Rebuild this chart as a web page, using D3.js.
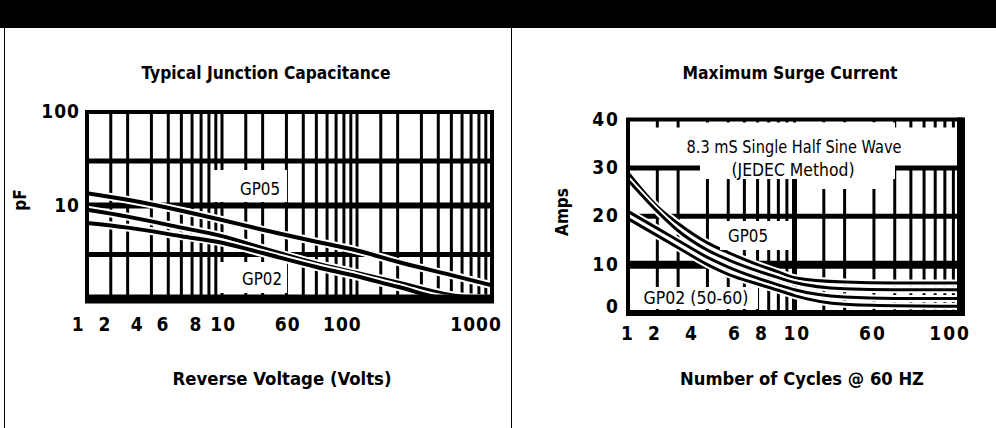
<!DOCTYPE html>
<html><head><meta charset="utf-8">
<script src="https://cdn.jsdelivr.net/npm/d3@7/dist/d3.min.js"></script>
<style>
html,body{margin:0;padding:0;background:#fff;}
svg{display:block;}
</style></head>
<body><svg id="c" width="996" height="428"></svg>
<script>
// ---------- DATA ----------
// Left chart: Typical Junction Capacitance (pF vs Reverse Voltage)
const capVoltage = [1, 2, 5, 10, 20, 50, 100, 200, 500, 1000];
const capCurveA = [13.5, 11.5, 8.8, 7.0, 5.5, 4.1, 3.3, 2.5, 1.8, 1.4];
const capCurveB = [9.0, 7.6, 5.8, 4.7, 3.5, 2.4, 1.9, 1.5, 1.1, 1.0];
const capCurveC = [6.5, 5.8, 4.7, 4.0, 3.1, 2.2, 1.75, 1.35, 1.0, 1.0];
const capXTickLabels = ["1", "2", "4", "6", "8", "10", "60", "100", "1000"];
const capXTickAt = [0.86, 1.36, 2.35, 3.66, 6.4, 10.2, 30.7, 78, 762];
const capYTickLabels = ["100", "10"];
const capYTickAt = [100, 10];
const capHGrid = [3, 10, 30];

// Right chart: Maximum Surge Current (Amps vs Number of Cycles)
const surgeCycles = [1, 1.5, 2, 3, 4, 6, 8, 10, 20, 40, 100];
const surgeCurve1 = [29, 22, 18.5, 14.5, 12.5, 10.0, 8.5, 7.3, 6.4, 6.2, 6.2];
const surgeCurve2 = [27.5, 21, 17, 13, 11, 8.7, 7.3, 6.3, 5.0, 4.8, 4.8];
const surgeCurve3 = [21, 17.5, 15, 11.5, 9.5, 7.2, 5.8, 4.8, 3.3, 3.0, 3.0];
const surgeCurve4 = [19.5, 16, 13.5, 10, 8, 6, 4.7, 3.6, 1.8, 1.5, 1.4];
const surgeXTickLabels = ["1", "2", "4", "6", "8", "10", "60", "100"];
const surgeXTickAt = [1, 1.45, 2.42, 4.39, 6.38, 10.4, 29.6, 86];
const surgeYTicks = [0, 10, 20, 30, 40];
const surgeHGrid = [10, 20, 30];

// log-grid mantissas per decade
const gridMantissa = [1, 1.5, 2, 3, 4, 5, 6, 7, 8, 9];

// ---------- DRAW ----------
const svg = d3.select("#c");
const FONT = '"Liberation Sans Narrow","DejaVu Sans Condensed",sans-serif';

svg.append("rect").attr("x",0).attr("y",0).attr("width",996).attr("height",28).attr("fill","#000");
svg.append("line").attr("x1",4.5).attr("x2",4.5).attr("y1",28).attr("y2",428).attr("stroke","#000").attr("stroke-width",1);
svg.append("line").attr("x1",511.5).attr("x2",511.5).attr("y1",28).attr("y2",428).attr("stroke","#000").attr("stroke-width",1);

function logGrid(min, max){
  const out=[];
  for(let d=min; d<max; d*=10){ gridMantissa.forEach(m=>{ const v=m*d; if(v>min && v<max) out.push(v);}); }
  return out;
}
function halo(g, line, data, w){
  g.append("path").datum(data).attr("d",line).attr("fill","none")
    .attr("stroke","#fff").attr("stroke-width",w+4).attr("stroke-linejoin","round");
  g.append("path").datum(data).attr("d",line).attr("fill","none")
    .attr("stroke","#000").attr("stroke-width",w).attr("stroke-linejoin","round");
}
function txt(g, x, y, s, o){
  o = o || {};
  const t = g.append("text").attr("x",x).attr("y",y).attr("text-anchor",o.anchor||"middle")
    .attr("font-family",FONT).attr("font-size",o.size||17).attr("fill","#000").text(s);
  if(o.bold) t.attr("font-weight","bold");
  if(o.len) t.attr("textLength",o.len).attr("lengthAdjust","spacingAndGlyphs");
  if(o.rot) t.attr("transform",`rotate(-90,${x},${y})`);
  if(o.dy) t.attr("dy",o.dy);
  return t;
}
function box(g, x0, y0, x1, y1){
  g.append("rect").attr("x",x0).attr("y",y0).attr("width",x1-x0).attr("height",y1-y0).attr("fill","#fff");
}

// ===== LEFT CHART =====
{
  const x = d3.scaleLog().domain([1,1000]).range([87,492]);
  const y = d3.scaleLog().domain([1,100]).range([299,112]);
  const g = svg.append("g");
  g.append("clipPath").attr("id","clipL").append("rect")
    .attr("x",x(1)).attr("y",y(100)).attr("width",x(1000)-x(1)).attr("height",y(1)-y(100));

  g.selectAll(".vg").data(logGrid(1,1000)).join("line")
    .attr("x1",d=>x(d)).attr("x2",d=>x(d)).attr("y1",y(100)).attr("y2",y(1))
    .attr("stroke","#000").attr("stroke-width",3);
  g.selectAll(".hg").data(capHGrid).join("line")
    .attr("x1",x(1)).attr("x2",x(1000)).attr("y1",d=>y(d)).attr("y2",d=>y(d))
    .attr("stroke","#000").attr("stroke-width",d=>d===10?6:5);

  const cg = g.append("g").attr("clip-path","url(#clipL)");
  const line = d3.line().x((d,i)=>x(capVoltage[i])).y(d=>y(d)).curve(d3.curveMonotoneX);
  [capCurveA, capCurveB, capCurveC].forEach(c=>halo(cg, line, c, 4));

  g.append("rect").attr("x",x(1)).attr("y",y(100)).attr("width",x(1000)-x(1)).attr("height",y(1)-y(100))
    .attr("fill","none").attr("stroke","#000").attr("stroke-width",4);
  g.append("line").attr("x1",x(1)-2).attr("x2",x(1000)+2).attr("y1",y(1)).attr("y2",y(1))
    .attr("stroke","#000").attr("stroke-width",9);

  box(g, 214, 170, 287, 202);
  txt(g, 260, 195, "GP05", {size:18, len:40});
  box(g, 218, 262, 287, 293);
  txt(g, 262, 285, "GP02", {size:18, len:40});

  g.selectAll(".xt").data(capXTickLabels).join("text")
    .attr("x",(d,i)=>x(capXTickAt[i])).attr("y",331).attr("text-anchor","middle")
    .attr("font-family",FONT).attr("font-weight","bold").attr("font-size",19).attr("letter-spacing",1)
    .text(d=>d);
  g.selectAll(".yt").data(capYTickLabels).join("text")
    .attr("x",80).attr("y",(d,i)=>y(capYTickAt[i])+6).attr("text-anchor","end")
    .attr("font-family",FONT).attr("font-weight","bold").attr("font-size",19).attr("letter-spacing",1)
    .text(d=>d);

  txt(g, 266, 79, "Typical Junction Capacitance", {bold:true, size:17, len:249});
  txt(g, 282, 385, "Reverse Voltage (Volts)", {bold:true, size:17, len:219});
  txt(g, 26, 200, "pF", {bold:true, size:17, rot:true});
}

// ===== RIGHT CHART =====
{
  const x = d3.scaleLog().domain([1,100]).range([628,961]);
  const y = d3.scaleLinear().domain([0,40]).range([313,119.5]);
  const g = svg.append("g");
  g.append("clipPath").attr("id","clipR").append("rect")
    .attr("x",x(1)).attr("y",y(40)).attr("width",x(100)-x(1)).attr("height",y(0)-y(40));

  const vg = logGrid(1,100);
  g.selectAll(".vt").data(vg).join("line")
    .attr("x1",d=>x(d)).attr("x2",d=>x(d)).attr("y1",y(40)).attr("y2",y(40)+8)
    .attr("stroke","#000").attr("stroke-width",3);
  g.selectAll(".vg").data(vg).join("line")
    .attr("x1",d=>x(d)).attr("x2",d=>x(d)).attr("y1",y(30)).attr("y2",y(0))
    .attr("stroke","#000").attr("stroke-width",d=>d===10?5:3);
  g.selectAll(".hg").data(surgeHGrid).join("line")
    .attr("x1",x(1)).attr("x2",x(100)).attr("y1",d=>y(d)).attr("y2",d=>y(d))
    .attr("stroke","#000").attr("stroke-width",d=>d===10?8:5);

  const cg = g.append("g").attr("clip-path","url(#clipR)");
  const line = d3.line().x((d,i)=>x(surgeCycles[i])).y(d=>y(d)).curve(d3.curveMonotoneX);
  [surgeCurve1, surgeCurve2, surgeCurve3, surgeCurve4].forEach(c=>halo(cg, line, c, 3));

  g.append("rect").attr("x",x(1)).attr("y",y(40)).attr("width",x(100)-x(1)).attr("height",y(0)-y(40))
    .attr("fill","none").attr("stroke","#000").attr("stroke-width",4);
  g.append("line").attr("x1",x(100)).attr("x2",x(100)).attr("y1",y(40)-2).attr("y2",y(0)+3)
    .attr("stroke","#000").attr("stroke-width",8);
  g.append("line").attr("x1",x(1)-2).attr("x2",x(100)+4).attr("y1",y(0)).attr("y2",y(0))
    .attr("stroke","#000").attr("stroke-width",6);

  box(g, 700, y(40)+3, 895, 179);
  box(g, 810, y(40)+3, 880, 189);
  txt(g, 794, 153, "8.3 mS Single Half Sine Wave", {size:18, len:215});
  txt(g, 793, 176, "(JEDEC Method)", {size:18, len:123});

  box(g, 720, 221, 790, 250);
  txt(g, 748, 242, "GP05", {size:18, len:40});
  box(g, 631, 287, 758, 309);
  txt(g, 696, 304, "GP02 (50-60)", {size:18, len:105});

  g.selectAll(".xt").data(surgeXTickLabels).join("text")
    .attr("x",(d,i)=>x(surgeXTickAt[i])).attr("y",340).attr("text-anchor","middle")
    .attr("font-family",FONT).attr("font-weight","bold").attr("font-size",19).attr("letter-spacing",2)
    .text(d=>d);
  g.selectAll(".yt").data(surgeYTicks).join("text")
    .attr("x",620).attr("y",d=>y(d)+(d===0?0:6)).attr("text-anchor","end")
    .attr("font-family",FONT).attr("font-weight","bold").attr("font-size",19).attr("letter-spacing",2)
    .text(d=>d);

  txt(g, 790, 79, "Maximum Surge Current", {bold:true, size:17, len:215});
  txt(g, 802, 385, "Number of Cycles @ 60 HZ", {bold:true, size:17, len:244});
  txt(g, 568, 212, "Amps", {bold:true, size:17, rot:true});
}
</script></body></html>
